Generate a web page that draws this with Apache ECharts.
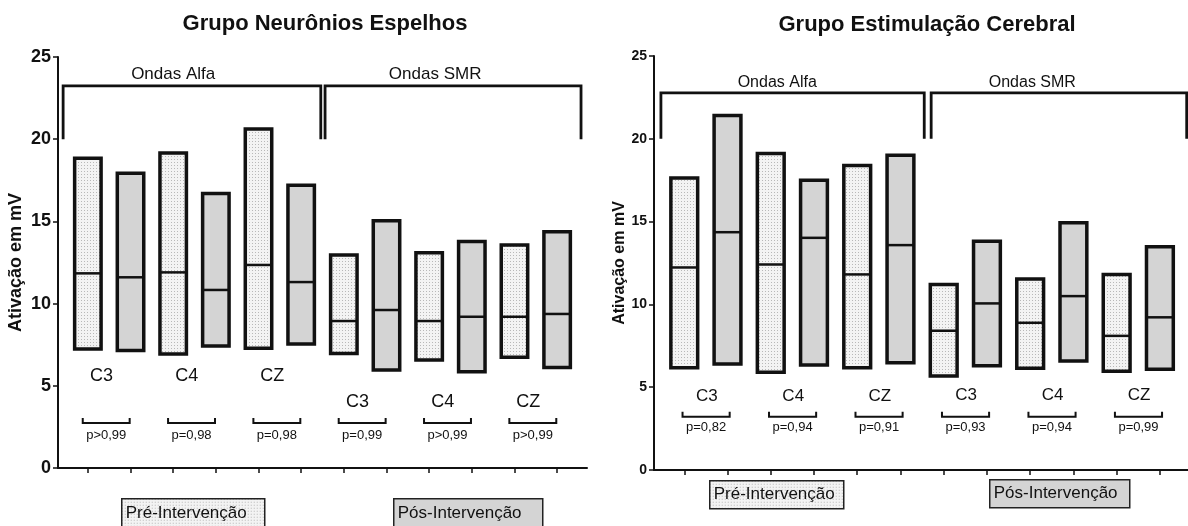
<!DOCTYPE html>
<html><head><meta charset="utf-8">
<script src="https://cdn.jsdelivr.net/npm/echarts@6/dist/echarts.min.js"></script>
<style>html,body{margin:0;padding:0;background:#fff}#c{width:1188px;height:526px}</style>
</head><body><div id="c"></div>
<script>
// ---- data ----
const sites = ['C3', 'C4', 'CZ'];
const waveLabels = ['Ondas Alfa', 'Ondas SMR'];
const phaseLabels = ['Pré-Intervenção', 'Pós-Intervenção'];
const yTickValues = [0, 5, 10, 15, 20, 25];
const boxPositions = [0, 1, 2, 3, 4, 5, 6, 7, 8, 9, 10, 11]; // Alfa C3 pre/pos, C4 pre/pos, CZ pre/pos, SMR ...

// Grupo Neurônios Espelhos
const neuroMin = [7.24, 7.14, 6.93, 7.42, 7.28, 7.54, 6.97, 5.96, 6.57, 5.86, 6.73, 6.12];
const neuroMedian = [11.84, 11.6, 11.9, 10.83, 12.35, 11.31, 8.94, 9.61, 8.94, 9.2, 9.2, 9.37];
const neuroMax = [18.84, 17.93, 19.16, 16.69, 20.62, 17.2, 12.96, 15.04, 13.1, 13.77, 13.56, 14.37];
const neuroP = ['p>0,99', 'p=0,98', 'p=0,98', 'p=0,99', 'p>0,99', 'p>0,99'];

// Grupo Estimulação Cerebral
const estimMin = [6.18, 6.4, 5.9, 6.34, 6.18, 6.48, 5.67, 6.3, 6.14, 6.58, 5.97, 6.08];
const estimMedian = [12.23, 14.36, 12.41, 14.02, 11.81, 13.58, 8.41, 10.06, 8.89, 10.5, 8.1, 9.22];
const estimMax = [17.64, 21.4, 19.11, 17.5, 18.39, 19.01, 11.2, 13.82, 11.53, 14.93, 11.81, 13.48];
const estimP = ['p=0,82', 'p=0,94', 'p=0,91', 'p=0,93', 'p=0,94', 'p=0,99'];

// ---- styling / layout ----
const FONT = 'Liberation Sans, Arial, sans-serif';
function makeDots() {
  const c = document.createElement('canvas');
  c.width = 3; c.height = 3;
  const g = c.getContext('2d');
  g.fillStyle = '#f3f3f3'; g.fillRect(0, 0, 3, 3);
  g.fillStyle = '#b8b8b8'; g.fillRect(0, 0, 1, 1);
  return c;
}
const dotPattern = { image: makeDots(), repeat: 'repeat' };
const postFill = '#d4d4d4';

const layouts = [
  { siteDx: 0.32, siteY: [5.6, 4.0], siteFont: 18, brX0: -0.12, brX1: 0.98, brY: 2.74, pY: 2.0, pFont: 13,
    waveTop: 23.24, waveBottom: 20, waveSpans: [[-0.58, 5.46], [5.56, 11.56]], waveLabelX: [2.0, 8.14], waveLabelY: 23.95, waveFont: 17 },
  { siteDx: 0.52, siteY: [4.42, 4.5], siteFont: 17, brX0: -0.04, brX1: 1.05, brY: 3.22, pY: 2.55, pFont: 13,
    waveTop: 22.77, waveBottom: 20, waveSpans: [[-0.54, 5.55], [5.71, 11.62]], waveLabelX: [2.15, 8.05], waveLabelY: 23.4, waveFont: 16 }
];

function boxRender(params, api) {
  const x = api.value(0);
  const lo = api.coord([x, api.value(1)]);
  const md = api.coord([x, api.value(2)]);
  const hi = api.coord([x, api.value(3)]);
  const hw = api.size([1, 0])[0] * 0.31;
  const post = x % 2 === 1;
  return { type: 'group', children: [
    { type: 'rect', shape: { x: lo[0] - hw, y: hi[1], width: 2 * hw, height: lo[1] - hi[1] },
      style: { fill: post ? postFill : dotPattern, stroke: '#111', lineWidth: 3.5 } },
    { type: 'line', shape: { x1: lo[0] - hw, y1: md[1], x2: lo[0] + hw, y2: md[1] },
      style: { stroke: '#111', lineWidth: 2.5 } }
  ] };
}

function annotRender(L, pLabels) {
  return function (params, api) {
    const g = api.value(0);
    const pre = g * 2;
    const wave = g >= 3 ? 1 : 0;
    const lab = api.coord([pre + L.siteDx, L.siteY[wave]]);
    const b0 = api.coord([pre + L.brX0, L.brY]);
    const b1 = api.coord([pre + L.brX1, L.brY]);
    const top = b0[1] - 5;
    const pl = api.coord([pre + (L.brX0 + L.brX1) / 2, L.pY]);
    return { type: 'group', children: [
      { type: 'text', x: lab[0], y: lab[1], style: { text: sites[g % 3], fontSize: L.siteFont, fontFamily: FONT, fill: '#111', align: 'center', verticalAlign: 'middle' } },
      { type: 'polyline', shape: { points: [[b0[0], top], [b0[0], b0[1]], [b1[0], b1[1]], [b1[0], top]] }, style: { stroke: '#111', lineWidth: 2, fill: null } },
      { type: 'text', x: pl[0], y: pl[1], style: { text: pLabels[g], fontSize: L.pFont, fontFamily: FONT, fill: '#111', align: 'center', verticalAlign: 'middle' } }
    ] };
  };
}

function waveRender(L) {
  return function (params, api) {
    const w = api.value(0);
    const s = L.waveSpans[w];
    const a = api.coord([s[0], L.waveBottom]);
    const b = api.coord([s[0], L.waveTop]);
    const c = api.coord([s[1], L.waveTop]);
    const d = api.coord([s[1], L.waveBottom]);
    const t = api.coord([L.waveLabelX[w], L.waveLabelY]);
    return { type: 'group', children: [
      { type: 'polyline', shape: { points: [a, b, c, d] }, style: { stroke: '#111', lineWidth: 2.8, fill: null } },
      { type: 'text', x: t[0], y: t[1], style: { text: waveLabels[w], fontSize: L.waveFont, fontFamily: FONT, fill: '#111', align: 'center', verticalAlign: 'middle' } }
    ] };
  };
}

function xAxis(gi, max) {
  return { type: 'value', gridIndex: gi, min: -0.7, max: max,
    axisLine: { show: true, onZero: false, lineStyle: { color: '#111', width: 2 } },
    axisTick: { show: true, customValues: boxPositions, length: 5, lineStyle: { color: '#111', width: 1.5 } },
    axisLabel: { show: false }, splitLine: { show: false } };
}
function yAxis(gi, labelSize, nameSize, nameGap, margin) {
  return { type: 'value', gridIndex: gi, min: yTickValues[0], max: yTickValues[yTickValues.length - 1], interval: 5,
    name: 'Ativação em mV', nameLocation: 'middle', nameGap: nameGap,
    nameTextStyle: { fontSize: nameSize, fontWeight: 'bold', color: '#111', fontFamily: FONT },
    axisLine: { show: true, onZero: false, lineStyle: { color: '#111', width: 2 } },
    axisTick: { show: true, length: 5, lineStyle: { color: '#111', width: 1.5 } },
    axisLabel: { fontSize: labelSize, fontWeight: 'bold', color: '#111', fontFamily: FONT, margin: margin },
    splitLine: { show: false } };
}

function boxData(mn, md, mx) { return boxPositions.map((p, i) => [p, mn[i], md[i], mx[i]]); }

function legendBox(x, y, w, h, fill, text, size) {
  return { type: 'group', left: x, top: y, children: [
    { type: 'rect', shape: { x: 0, y: 0, width: w, height: h }, style: { fill: fill, stroke: '#222', lineWidth: 1.5 } },
    { type: 'text', x: 4, y: h / 2, style: { text: text, fontSize: size, fontFamily: FONT, fill: '#111', verticalAlign: 'middle' } }
  ] };
}

const chart = echarts.init(document.getElementById('c'), null, { renderer: 'canvas' });
chart.setOption({
  animation: false,
  backgroundColor: '#fff',
  title: [
    { text: 'Grupo Neurônios Espelhos', left: 320, top: 8, textAlign: 'center', textStyle: { fontSize: 22, fontWeight: 'bold', color: '#111', fontFamily: FONT } },
    { text: 'Grupo Estimulação Cerebral', left: 922, top: 9, textAlign: 'center', textStyle: { fontSize: 22, fontWeight: 'bold', color: '#111', fontFamily: FONT } }
  ],
  grid: [
    { left: 58, top: 57, width: 529, height: 411 },
    { left: 654, top: 56, width: 534, height: 414 }
  ],
  xAxis: [xAxis(0, 11.7), xAxis(1, 11.65)],
  yAxis: [yAxis(0, 18, 18, 33, 7), yAxis(1, 14, 16, 26, 7)],
  series: [
    { type: 'custom', xAxisIndex: 0, yAxisIndex: 0, renderItem: boxRender, data: boxData(neuroMin, neuroMedian, neuroMax), clip: false },
    { type: 'custom', xAxisIndex: 0, yAxisIndex: 0, renderItem: annotRender(layouts[0], neuroP), data: neuroP.map((_, i) => [i]), clip: false },
    { type: 'custom', xAxisIndex: 0, yAxisIndex: 0, renderItem: waveRender(layouts[0]), data: waveLabels.map((_, i) => [i]), clip: false },
    { type: 'custom', xAxisIndex: 1, yAxisIndex: 1, renderItem: boxRender, data: boxData(estimMin, estimMedian, estimMax), clip: false },
    { type: 'custom', xAxisIndex: 1, yAxisIndex: 1, renderItem: annotRender(layouts[1], estimP), data: estimP.map((_, i) => [i]), clip: false },
    { type: 'custom', xAxisIndex: 1, yAxisIndex: 1, renderItem: waveRender(layouts[1]), data: waveLabels.map((_, i) => [i]), clip: false }
  ],
  graphic: [
    legendBox(121, 498, 143, 30, dotPattern, phaseLabels[0], 17),
    legendBox(393, 498, 149, 30, postFill, phaseLabels[1], 17),
    legendBox(709, 480, 134, 28, dotPattern, phaseLabels[0], 17),
    legendBox(989, 479, 140, 28, postFill, phaseLabels[1], 17)
  ]
});
</script></body></html>
